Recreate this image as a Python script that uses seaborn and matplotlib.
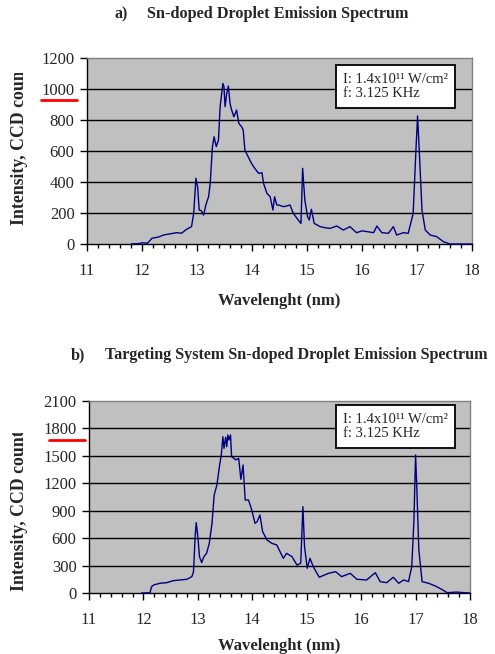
import matplotlib
matplotlib.use("Agg")
import matplotlib.pyplot as plt
from matplotlib.ticker import MultipleLocator
from matplotlib.transforms import Bbox, TransformedBbox
from matplotlib.lines import Line2D
import seaborn as sns

sns.set_style("ticks")
plt.rcParams['font.family'] = ['Liberation Serif', 'DejaVu Serif']

# a) Sn-doped droplet spectrum
wl_a = [11.8, 11.95, 12.0, 12.1, 12.18, 12.3, 12.39, 12.5, 12.63, 12.72, 12.81, 12.90,
        12.94, 12.98, 13.01, 13.04, 13.08, 13.12, 13.16, 13.21, 13.24, 13.28, 13.31,
        13.35, 13.39, 13.42, 13.47, 13.49, 13.51, 13.54, 13.57, 13.60, 13.63, 13.67,
        13.72, 13.76, 13.81, 13.84, 13.87, 13.93, 13.99, 14.05, 14.12, 14.18, 14.21,
        14.27, 14.33, 14.38, 14.41, 14.45, 14.50, 14.57, 14.63, 14.69, 14.75, 14.84,
        14.89, 14.92, 14.96, 15.01, 15.04, 15.08, 15.13, 15.24, 15.33, 15.42, 15.54,
        15.66, 15.78, 15.90, 16.00, 16.09, 16.21, 16.27, 16.36, 16.48, 16.57, 16.63,
        16.75, 16.84, 16.93, 16.98, 17.01, 17.04, 17.09, 17.15, 17.24, 17.36, 17.48,
        17.60, 18.0]
counts_a = [0, 3, 8, 5, 37, 45, 58, 65, 73, 70, 95, 112,
            198, 424, 370, 219, 215, 187, 252, 305, 391, 628, 692,
            628, 671, 886, 1036, 1015, 886, 972, 1019, 907, 864, 821,
            864, 778, 757, 735, 606, 563, 520, 488, 456, 460, 391,
            327, 305, 219, 305, 252, 250, 241, 245, 252, 198, 155,
            133, 488, 284, 176, 155, 224, 133, 112, 105, 101, 116,
            90, 112, 73, 85, 80, 73, 116, 73, 69, 112, 58,
            73, 69, 198, 606, 826, 606, 219, 90, 58, 47, 15,
            0, 0]

# b) targeting system spectrum
wl_b = [11.97, 12.12, 12.15, 12.19, 12.30, 12.43, 12.55, 12.67, 12.80, 12.89, 12.92,
        12.95, 12.97, 13.00, 13.03, 13.07, 13.11, 13.16, 13.21, 13.26, 13.30, 13.35,
        13.40, 13.43, 13.46, 13.48, 13.51, 13.53, 13.55, 13.57, 13.60, 13.62, 13.66,
        13.70, 13.75, 13.79, 13.83, 13.87, 13.93, 13.99, 14.05, 14.09, 14.14, 14.19,
        14.27, 14.36, 14.45, 14.57, 14.63, 14.73, 14.82, 14.89, 14.93, 14.96, 15.01,
        15.06, 15.12, 15.23, 15.40, 15.53, 15.64, 15.80, 15.92, 16.10, 16.26, 16.35,
        16.47, 16.59, 16.69, 16.78, 16.87, 16.93, 16.97, 17.00, 17.02, 17.06, 17.12,
        17.24, 17.36, 17.48, 17.58, 17.75, 17.85, 18.0]
counts_b = [0, 2, 69, 88, 106, 113, 135, 142, 150, 179, 233,
            616, 769, 616, 397, 332, 397, 434, 543, 762, 1072, 1181,
            1400, 1509, 1709, 1582, 1702, 1600, 1728, 1673, 1728, 1491, 1473,
            1455, 1473, 1243, 1400, 1017, 1017, 908, 762, 780, 853, 671,
            580, 543, 525, 379, 434, 397, 306, 325, 944, 506, 270,
            379, 288, 172, 215, 233, 179, 215, 150, 142, 222, 124,
            113, 172, 106, 142, 124, 288, 798, 1509, 1200, 470, 124,
            106, 77, 40, 3, 10, 5, 0]

x_ticks = [11, 12, 13, 14, 15, 16, 17, 18]
y_ticks_a = [0, 200, 400, 600, 800, 1000, 1200]
y_ticks_b = [0, 300, 600, 900, 1200, 1500, 1800, 2100]
legend_txt = "I: 1.4x10\u00b9\u00b9 W/cm\u00b2\nf: 3.125 KHz"

fig = plt.figure(figsize=(4.95, 6.54), dpi=100)
ax1 = fig.add_axes([0.1758, 0.6269, 0.7778, 0.2844])
ax2 = fig.add_axes([0.1798, 0.0933, 0.7697, 0.2936])


def style(ax, wl, counts, yticks, box_xy, clip_top, lab_x, lab_y, lab_c):
    ax.set_facecolor('#c0c0c0')
    sns.lineplot(x=wl, y=counts, ax=ax, color='#000080', lw=1,
                 sort=False, estimator=None, zorder=3)
    ax.lines[-1].set_clip_on(False)
    ax.set_xlim(11, 18)
    ax.set_ylim(yticks[0], yticks[-1])
    ax.set_xticks(x_ticks)
    ax.set_yticks(yticks)
    ax.xaxis.set_minor_locator(MultipleLocator(0.2))
    for y in yticks[1:-1]:
        ax.axhline(y, color='black', lw=1, zorder=1)
    ax.tick_params(axis='both', which='major', direction='out', length=5,
                   width=1, color='black', labelsize=12, pad=4)
    ax.tick_params(axis='x', which='major', pad=9)
    ax.tick_params(axis='x', which='minor', direction='out', length=3,
                   width=1, color='black')
    for s in ('left', 'bottom'):
        ax.spines[s].set_color('black')
        ax.spines[s].set_linewidth(1)
    for s in ('top', 'right'):
        ax.spines[s].set_color('#808080')
        ax.spines[s].set_linewidth(1)
    ax.set_xlabel('Wavelenght (nm)', fontsize=12, fontweight='bold')
    ax.xaxis.set_label_coords(0.5, lab_x)
    ax.set_ylabel('Intensity, CCD count', fontsize=12.8, fontweight='bold')
    ax.yaxis.set_label_coords(lab_y, lab_c)
    # the label runs past the plot area in the original and gets cut there
    clip = TransformedBbox(Bbox([[0, 0], [1, clip_top]]), fig.transFigure)
    ax.yaxis.label.set_clip_box(clip)
    ax.yaxis.label.set_clip_on(True)
    ax.text(box_xy[0], box_xy[1], legend_txt, transform=ax.transAxes,
            ha='center', va='center', multialignment='left', fontsize=10.5,
            linespacing=1.15, zorder=5,
            bbox=dict(boxstyle='square,pad=0.5', fc='white', ec='black', lw=1.3))


style(ax1, wl_a, counts_a, y_ticks_a, (0.801, 0.847), 1 - 73 / 654,
      -0.263, -0.153, 0.535)
style(ax2, wl_b, counts_b, y_ticks_b, (0.804, 0.867), 1 - 433 / 654,
      -0.234, -0.160, 0.43)

fig.text(0.244, 0.9786, 'a)', fontsize=11.6, fontweight='bold', ha='center', va='center')
fig.text(0.297, 0.9786, 'Sn-doped Droplet Emission Spectrum', fontsize=11.7,
         fontweight='bold', ha='left', va='center')
fig.text(0.158, 0.457, 'b)', fontsize=11.6, fontweight='bold', ha='center', va='center')
fig.text(0.212, 0.457, 'Targeting System Sn-doped Droplet Emission Spectrum',
         fontsize=11.6, fontweight='bold', ha='left', va='center')

# red marks under 1000 and 1800
fig.add_artist(Line2D([0.082, 0.155], [0.847, 0.847], color='red', lw=2,
                      transform=fig.transFigure))
fig.add_artist(Line2D([0.099, 0.172], [0.327, 0.327], color='red', lw=2,
                      transform=fig.transFigure))

fig.savefig('out.png', dpi=100)
